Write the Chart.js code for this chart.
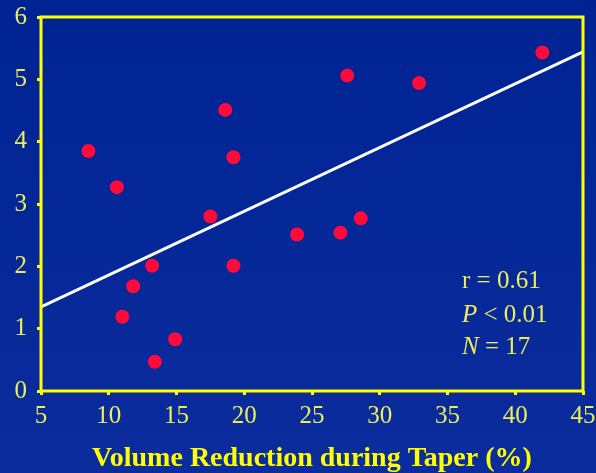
<!DOCTYPE html>
<html>
<head>
<meta charset="utf-8">
<script src="https://cdn.jsdelivr.net/npm/chart.js@4.4.0/dist/chart.umd.min.js"></script>
<style>
  html, body { margin: 0; padding: 0; }
  body { width: 596px; height: 473px; overflow: hidden; background: linear-gradient(#002393, #0a2c9d); }
  #wrap { position: relative; width: 596px; height: 473px; }
  canvas { display: block; }
</style>
</head>
<body>
<div id="wrap"><canvas id="chartTaper" width="596" height="473"></canvas></div>
<script>
// taper volume reduction vs. performance change scatter

const volumeReduction = [8.5, 10.6, 11.8, 11.0, 13.2, 13.4, 14.9, 17.5, 19.2, 18.6, 19.2, 23.9, 27.1, 28.6, 27.6, 32.9, 42.0];
const performanceGain = [3.85, 3.27, 1.68, 1.19, 2.01, 0.47, 0.83, 2.80, 2.01, 4.51, 3.75, 2.51, 2.54, 2.77, 5.06, 4.94, 5.43];

// regression line end points
const fitX = [5, 45];
const fitY = [1.35, 5.44];

const xRange = [5, 45];
const yRange = [0, 6];

const statLines = [
  [["r", false], [" = 0.61", false]],
  [["P", true], [" < 0.01", false]],
  [["N", true], [" = 17", false]],
];

const YELLOW = "#ffff00";
const TICK_YELLOW = "#ecec5e";
const SERIF = "'Liberation Serif', 'Times New Roman', serif";

Chart.defaults.font.family = SERIF;

// keep the plot box fixed: no extra room for overhanging end labels
function noLabelPadding(s) {
  s.paddingLeft = 0;
  s.paddingRight = 0;
  s.paddingTop = 0;
  s.paddingBottom = 0;
}

const framePlugin = {
  id: "frame",
  afterDraw(chart) {
    const { ctx, chartArea: a } = chart;
    ctx.save();
    ctx.strokeStyle = YELLOW;
    ctx.lineWidth = 3;
    ctx.strokeRect(a.left, a.top, a.right - a.left, a.bottom - a.top);
    ctx.restore();
  },
};

const statsPlugin = {
  id: "stats",
  afterDraw(chart) {
    const { ctx } = chart;
    const x0 = 462;
    const baselines = [288, 322, 354];
    ctx.save();
    ctx.fillStyle = TICK_YELLOW;
    ctx.textBaseline = "alphabetic";
    statLines.forEach((parts, i) => {
      let x = x0;
      parts.forEach(([txt, italic]) => {
        ctx.font = (italic ? "italic " : "") + "25px " + SERIF;
        ctx.fillText(txt, x, baselines[i]);
        x += ctx.measureText(txt).width;
      });
    });
    ctx.restore();
  },
};

new Chart(document.getElementById("chartTaper"), {
  type: "scatter",
  data: {
    datasets: [
      {
        type: "line",
        data: fitX.map((x, i) => ({ x, y: fitY[i] })),
        borderColor: "#ffffff",
        borderWidth: 3,
        pointRadius: 0,
        fill: false,
        order: 2,
      },
      {
        data: volumeReduction.map((x, i) => ({ x, y: performanceGain[i] })),
        backgroundColor: "#ff0a3a",
        borderWidth: 0,
        pointRadius: 7,
        order: 1,
      },
    ],
  },
  options: {
    responsive: false,
    animation: false,
    layout: { padding: { top: 17, right: 13, left: 0, bottom: 0 } },
    plugins: { legend: { display: false }, tooltip: { enabled: false } },
    scales: {
      x: {
        type: "linear",
        min: xRange[0],
        max: xRange[1],
        ticks: { stepSize: 5, color: TICK_YELLOW, font: { size: 25, lineHeight: 1 }, padding: 9, maxRotation: 0 },
        grid: { drawOnChartArea: false, drawTicks: true, tickLength: 4, lineWidth: 3, color: YELLOW },
        border: { display: false },
        title: {
          display: true,
          text: "Volume Reduction during Taper (%)",
          color: YELLOW,
          font: { size: 28, weight: "bold", lineHeight: 1 },
          padding: { top: 10, bottom: 0 },
        },
        afterFit: (s) => { s.height = 82; noLabelPadding(s); },
      },
      y: {
        min: yRange[0],
        max: yRange[1],
        ticks: { stepSize: 1, color: TICK_YELLOW, font: { size: 25, lineHeight: 1 }, padding: 10 },
        grid: { drawOnChartArea: false, drawTicks: true, tickLength: 4, lineWidth: 3, color: YELLOW },
        border: { display: false },
        afterFit: (s) => { s.width = 41; noLabelPadding(s); },
      },
    },
  },
  plugins: [framePlugin, statsPlugin],
});
</script>
</body>
</html>
